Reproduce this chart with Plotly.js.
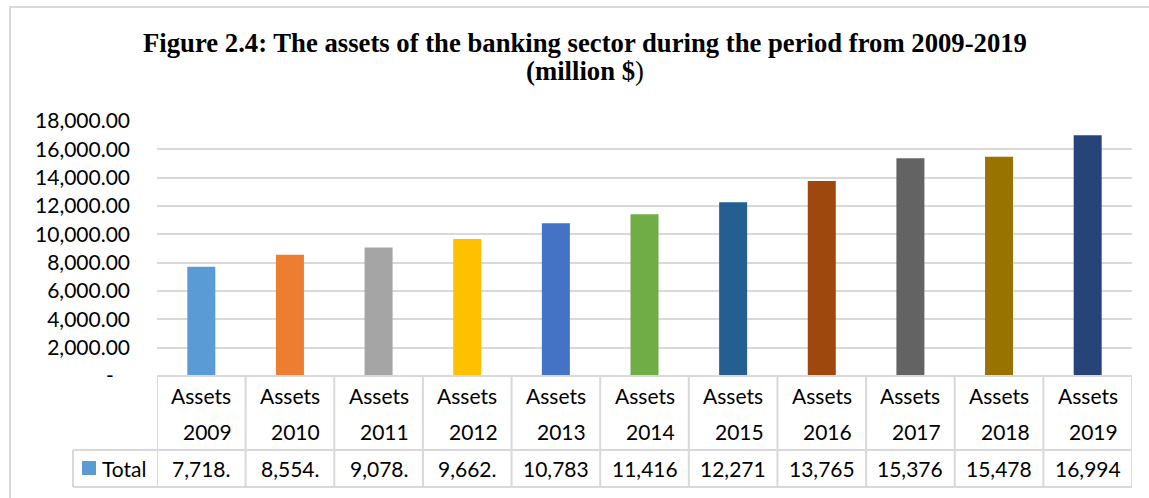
<!DOCTYPE html>
<html>
<head>
<meta charset="utf-8">
<script src="https://cdn.plot.ly/plotly-3.0.1.min.js"></script>
<style>html,body{margin:0;padding:0;background:#fff;}</style>
</head>
<body>
<div id="chart" style="width:1149px;height:498px;"></div>
<script>
// ---- data ----
var years = ['2009','2010','2011','2012','2013','2014','2015','2016','2017','2018','2019'];
var headerLabel = 'Assets';
var seriesName = 'Total';
var totals = [7718, 8554, 9078, 9662, 10783, 11416, 12271, 13765, 15376, 15478, 16994];
var barColors = ['#5B9BD5','#ED7D31','#A5A5A5','#FFC000','#4472C4','#70AD47','#255E91','#9E480E','#636363','#997300','#264478'];
var yTickVals = [0,2000,4000,6000,8000,10000,12000,14000,16000,18000];
var yTickText = ['-\u00a0\u00a0\u00a0','2,000.00','4,000.00','6,000.00','8,000.00','10,000.00','12,000.00','14,000.00','16,000.00','18,000.00'];
var titleLine1 = 'Figure 2.4: The assets of the banking sector during the period from 2009-2019';
var titleLine2 = '(million $';
var titleLine2End = ')';

// ---- geometry helpers (pixel -> paper) ----
var W = 1149, H = 498, ML = 157, MR = 17, MT = 121, MB = 122;
var PW = W - ML - MR, PH = H - MT - MB;
function px(x){ return (x - ML) / PW; }
function py(y){ return (H - MB - y) / PH; }

var FONT = 'Lato, "Open Sans", sans-serif';
var grid = '#d9d9d9';

var shapes = [];
var annotations = [];

// outer chart frame
shapes.push({type:'rect', xref:'paper', yref:'paper', x0:px(10), x1:px(1165), y0:py(7), y1:py(515),
  line:{color:grid, width:2}, fillcolor:'rgba(0,0,0,0)', layer:'below'});

// data table lines
var n = years.length;
shapes.push({type:'line', xref:'paper', yref:'paper', x0:0, x1:1, y0:py(376), y1:py(376), line:{color:grid, width:2}});
shapes.push({type:'line', xref:'paper', yref:'paper', x0:px(73), x1:1, y0:py(450), y1:py(450), line:{color:grid, width:2}});
shapes.push({type:'line', xref:'paper', yref:'paper', x0:px(73), x1:1, y0:py(487), y1:py(487), line:{color:grid, width:2}});
shapes.push({type:'line', xref:'paper', yref:'paper', x0:px(73), x1:px(73), y0:py(450), y1:py(487), line:{color:grid, width:2}});
for (var i = 0; i <= n; i++) {
  shapes.push({type:'line', xref:'x', yref:'paper', x0:i-0.5, x1:i-0.5, y0:py(376), y1:py(487), line:{color:grid, width:2}});
}
// legend key
shapes.push({type:'rect', xref:'paper', yref:'paper', x0:px(82), x1:px(96), y0:py(461), y1:py(475),
  line:{width:0}, fillcolor:barColors[0]});

function fmt(v){
  return v.toLocaleString('en-US',{minimumFractionDigits:2, maximumFractionDigits:2}).slice(0,6);
}
for (var j = 0; j < n; j++) {
  annotations.push({xref:'x', yref:'paper', x:j, y:py(395), text:headerLabel, showarrow:false,
    xanchor:'center', yanchor:'middle', font:{family:FONT, size:21, color:'#000'}});
  annotations.push({xref:'x', yref:'paper', x:j, y:py(431), xshift:6, text:years[j], showarrow:false,
    xanchor:'center', yanchor:'middle', font:{family:FONT, size:21, color:'#000'}});
  annotations.push({xref:'x', yref:'paper', x:j, y:py(468), text:fmt(totals[j]), showarrow:false,
    xanchor:'center', yanchor:'middle', font:{family:FONT, size:21, color:'#000'}});
}
annotations.push({xref:'paper', yref:'paper', x:px(100), y:py(468), text:seriesName, showarrow:false,
  xanchor:'left', yanchor:'middle', font:{family:FONT, size:21, color:'#000'}});

var titleText = '<span style="font-size:26.7px"><b>' + titleLine1 + '</b></span><br>' +
                '<span style="font-size:26.7px"><b>' + titleLine2 + '</b>' + titleLine2End + '</span>';

var trace = {
  type:'bar',
  x: years,
  y: totals,
  marker:{color: barColors},
  hoverinfo:'skip'
};

var layout = {
  width:W, height:H,
  margin:{l:ML, r:MR, t:MT, b:MB, pad:0},
  paper_bgcolor:'#fff', plot_bgcolor:'#fff',
  showlegend:false,
  bargap: 1 - 28/(PW/n),
  title:{text:titleText, x:585/W, xref:'container', xanchor:'center', y:1-52/H, yref:'container', yanchor:'top',
    font:{family:'"Liberation Serif", "Times New Roman", serif', size:21.5, color:'#000'}},
  xaxis:{type:'category', showticklabels:false, showgrid:false, zeroline:false, showline:false, ticks:'',
    range:[-0.5, n-0.5], fixedrange:true},
  yaxis:{range:[0,18000], tickvals:yTickVals, ticktext:yTickText, showgrid:true, gridcolor:grid, gridwidth:2,
    zeroline:false, showline:false, ticks:'', ticklabelstandoff:26,
    tickfont:{family:FONT, size:21, color:'#000'}, fixedrange:true},
  shapes:shapes,
  annotations:annotations
};

Plotly.newPlot('chart', [trace], layout, {displayModeBar:false, staticPlot:true});
</script>
</body>
</html>
